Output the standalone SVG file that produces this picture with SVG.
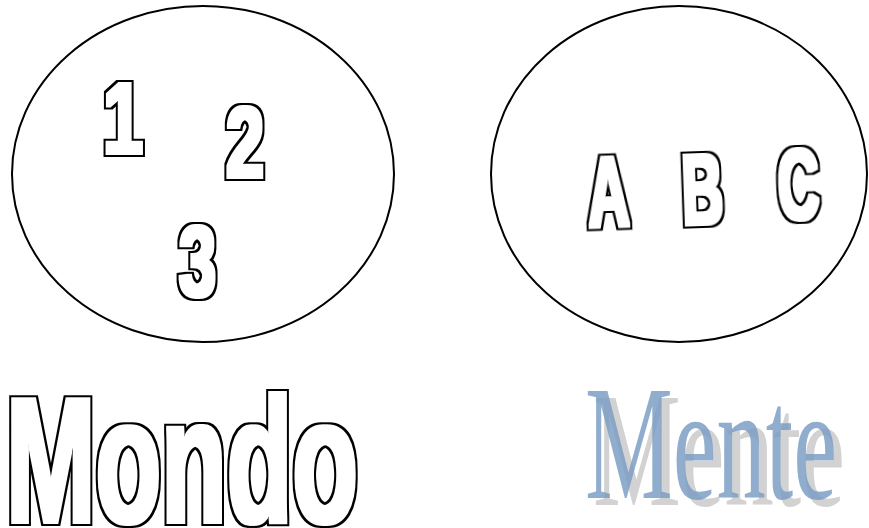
<svg xmlns="http://www.w3.org/2000/svg" width="869" height="528" viewBox="0 0 869 528">
<style>
.ell{fill:none;stroke:#000;stroke-width:2}
.g{font-family:"Liberation Sans",Arial,sans-serif;font-weight:bold;fill:#000;filter:url(#outline)}
.mente{font-family:"Liberation Serif","Times New Roman",serif;font-size:163px}
</style>
<defs>
<filter id="outline" x="-25%" y="-25%" width="150%" height="150%" color-interpolation-filters="sRGB">
<feMorphology in="SourceAlpha" operator="dilate" radius="3.5" result="outer"/>
<feMorphology in="SourceAlpha" operator="dilate" radius="1.5" result="inner"/>
<feFlood flood-color="#000" result="blk"/>
<feComposite in="blk" in2="outer" operator="in" result="ring"/>
<feFlood flood-color="#fff" result="wht"/>
<feComposite in="wht" in2="inner" operator="in" result="core"/>
<feMerge><feMergeNode in="ring"/><feMergeNode in="core"/></feMerge>
</filter>
</defs>
<rect width="869" height="528" fill="#fff"/>
<g id="mondo-set">
<ellipse class="ell" cx="203" cy="174" rx="191" ry="168"/>
<text class="g" font-size="100" x="103" y="152.5" textLength="40" lengthAdjust="spacingAndGlyphs">1</text>
<text class="g" font-size="100" x="226" y="176.5" textLength="38" lengthAdjust="spacingAndGlyphs">2</text>
<text class="g" font-size="100" x="179" y="296" textLength="37" lengthAdjust="spacingAndGlyphs">3</text>
</g>
<g id="mente-set">
<ellipse class="ell" cx="679" cy="174" rx="188" ry="168"/>
<text class="g" font-size="100" x="589" y="226.5" textLength="41" lengthAdjust="spacingAndGlyphs" transform="rotate(-2 609 226)">A</text>
<text class="g" font-size="100" x="683" y="223.5" textLength="41" lengthAdjust="spacingAndGlyphs" transform="rotate(-2 703 223)">B</text>
<text class="g" font-size="100" x="779" y="218.5" textLength="41" lengthAdjust="spacingAndGlyphs" transform="rotate(-2 799 218)">C</text>
</g>
<g id="label-mondo">
<text class="g" font-size="179" x="6" y="521.5" textLength="352" lengthAdjust="spacingAndGlyphs">Mondo</text>
</g>
<g id="label-mente">
<text class="mente" x="593" y="505" textLength="252" lengthAdjust="spacingAndGlyphs" fill="#d2d2d2">Mente</text>
<text class="mente" x="585" y="498" textLength="252" lengthAdjust="spacingAndGlyphs" fill="#7d9fc4" fill-opacity="0.85">Mente</text>
</g>
</svg>
